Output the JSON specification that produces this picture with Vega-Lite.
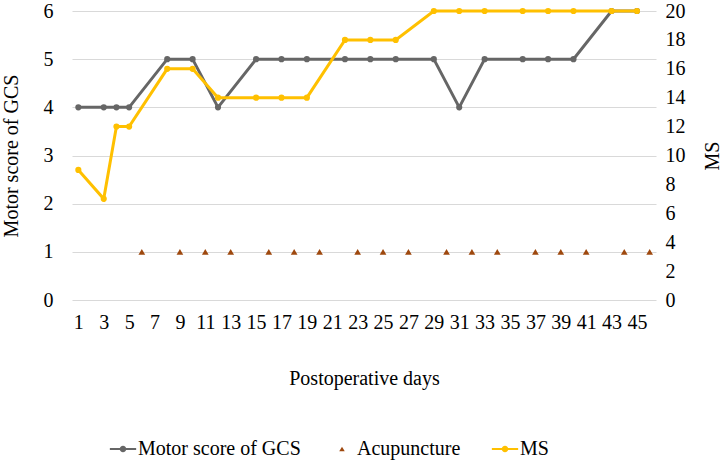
{
  "$schema": "https://vega.github.io/schema/vega-lite/v6.json",
  "autosize": {"type": "none"},
  "width": 584,
  "height": 289,
  "padding": {"left": 72, "top": 11, "right": 70, "bottom": 163},
  "background": "white",
  "config": {
    "font": "Liberation Serif",
    "view": {"stroke": null},
    "axis": {"labelFont": "Liberation Serif", "titleFont": "Liberation Serif", "labelFontSize": 20, "titleFontSize": 20, "titleFontWeight": "normal", "labelColor": "#000", "titleColor": "#000", "ticks": false, "domain": false},
    "legend": {"labelFont": "Liberation Serif"}
  },
  "data": {"values": [
    {"day": 1, "series": "Motor score of GCS", "value": 4},
    {"day": 3, "series": "Motor score of GCS", "value": 4},
    {"day": 4, "series": "Motor score of GCS", "value": 4},
    {"day": 5, "series": "Motor score of GCS", "value": 4},
    {"day": 8, "series": "Motor score of GCS", "value": 5},
    {"day": 10, "series": "Motor score of GCS", "value": 5},
    {"day": 12, "series": "Motor score of GCS", "value": 4},
    {"day": 15, "series": "Motor score of GCS", "value": 5},
    {"day": 17, "series": "Motor score of GCS", "value": 5},
    {"day": 19, "series": "Motor score of GCS", "value": 5},
    {"day": 22, "series": "Motor score of GCS", "value": 5},
    {"day": 24, "series": "Motor score of GCS", "value": 5},
    {"day": 26, "series": "Motor score of GCS", "value": 5},
    {"day": 29, "series": "Motor score of GCS", "value": 5},
    {"day": 31, "series": "Motor score of GCS", "value": 4},
    {"day": 33, "series": "Motor score of GCS", "value": 5},
    {"day": 36, "series": "Motor score of GCS", "value": 5},
    {"day": 38, "series": "Motor score of GCS", "value": 5},
    {"day": 40, "series": "Motor score of GCS", "value": 5},
    {"day": 43, "series": "Motor score of GCS", "value": 6},
    {"day": 45, "series": "Motor score of GCS", "value": 6},
    {"day": 1, "series": "MS", "value": 9},
    {"day": 3, "series": "MS", "value": 7},
    {"day": 4, "series": "MS", "value": 12},
    {"day": 5, "series": "MS", "value": 12},
    {"day": 8, "series": "MS", "value": 16},
    {"day": 10, "series": "MS", "value": 16},
    {"day": 12, "series": "MS", "value": 14},
    {"day": 15, "series": "MS", "value": 14},
    {"day": 17, "series": "MS", "value": 14},
    {"day": 19, "series": "MS", "value": 14},
    {"day": 22, "series": "MS", "value": 18},
    {"day": 24, "series": "MS", "value": 18},
    {"day": 26, "series": "MS", "value": 18},
    {"day": 29, "series": "MS", "value": 20},
    {"day": 31, "series": "MS", "value": 20},
    {"day": 33, "series": "MS", "value": 20},
    {"day": 36, "series": "MS", "value": 20},
    {"day": 38, "series": "MS", "value": 20},
    {"day": 40, "series": "MS", "value": 20},
    {"day": 43, "series": "MS", "value": 20},
    {"day": 45, "series": "MS", "value": 20},
    {"day": 6, "series": "Acupuncture", "value": 1},
    {"day": 9, "series": "Acupuncture", "value": 1},
    {"day": 11, "series": "Acupuncture", "value": 1},
    {"day": 13, "series": "Acupuncture", "value": 1},
    {"day": 16, "series": "Acupuncture", "value": 1},
    {"day": 18, "series": "Acupuncture", "value": 1},
    {"day": 20, "series": "Acupuncture", "value": 1},
    {"day": 23, "series": "Acupuncture", "value": 1},
    {"day": 25, "series": "Acupuncture", "value": 1},
    {"day": 27, "series": "Acupuncture", "value": 1},
    {"day": 30, "series": "Acupuncture", "value": 1},
    {"day": 32, "series": "Acupuncture", "value": 1},
    {"day": 34, "series": "Acupuncture", "value": 1},
    {"day": 37, "series": "Acupuncture", "value": 1},
    {"day": 39, "series": "Acupuncture", "value": 1},
    {"day": 41, "series": "Acupuncture", "value": 1},
    {"day": 44, "series": "Acupuncture", "value": 1},
    {"day": 46, "series": "Acupuncture", "value": 1}
  ]},
  "encoding": {
    "x": {"field": "day", "type": "quantitative", "title": "Postoperative days",
      "scale": {"domain": [0.5, 46.5], "nice": false, "zero": false},
      "axis": {"values": [1,3,5,7,9,11,13,15,17,19,21,23,25,27,29,31,33,35,37,39,41,43,45], "grid": false, "labelPadding": 12, "titlePadding": 36, "labelFlush": false, "labelOverlap": false, "labelFont": "Liberation Serif", "titleFont": "Liberation Serif"}},
    "color": {"field": "series", "type": "nominal", "title": null,
      "scale": {"domain": ["Motor score of GCS", "Acupuncture", "MS"], "range": ["#666666", "#9E480E", "#FFC000"]},
      "legend": {"orient": "none", "legendX": 40, "legendY": 427, "direction": "horizontal", "labelFont": "Liberation Serif", "labelFontSize": 20, "labelLimit": 400, "labelColor": "#000", "columnPadding": 30, "symbolSize": 80, "labelOffset": 4,
        "encode": {"symbols": {"update": {"shape": {"signal": "datum.value === 'Acupuncture' ? 'triangle-up' : 'M-1.2,-0.1H1.2V0.1H-1.2Z M-0.3,0A0.3,0.3 0 1,1 0.3,0A0.3,0.3 0 1,1 -0.3,0Z'"}, "size": {"signal": "datum.value === 'Acupuncture' ? 30 : 480"}, "strokeWidth": {"value": 0}}}}}}
  },
  "layer": [
    {
      "layer": [
        {"transform": [{"filter": "datum.series === 'Motor score of GCS'"}],
         "mark": {"type": "line", "strokeWidth": 3, "point": {"size": 38, "filled": true}},
         "encoding": {"y": {"field": "value", "type": "quantitative"}}},
        {"transform": [{"filter": "datum.series === 'Acupuncture'"}],
         "mark": {"type": "point", "shape": "triangle-up", "filled": true, "size": 45, "opacity": 1},
         "encoding": {"y": {"field": "value", "type": "quantitative"}}}
      ],
      "encoding": {
        "y": {"title": "Motor score of GCS",
          "scale": {"domain": [0, 6], "nice": false},
          "axis": {"orient": "left", "values": [0,1,2,3,4,5,6], "grid": true, "gridColor": "#D9D9D9", "gridWidth": 1, "labelPadding": 19, "titlePadding": 22, "labelFont": "Liberation Serif", "titleFont": "Liberation Serif"}}
      }
    },
    {"transform": [{"filter": "datum.series === 'MS'"}],
     "mark": {"type": "line", "strokeWidth": 3, "point": {"size": 38, "filled": true}},
     "encoding": {"y": {"field": "value", "type": "quantitative", "title": "MS",
        "scale": {"domain": [0, 20], "nice": false},
        "axis": {"orient": "right", "values": [0,2,4,6,8,10,12,14,16,18,20], "grid": false, "labelPadding": 9, "titlePadding": 37, "titleAngle": 270, "labelFont": "Liberation Serif", "titleFont": "Liberation Serif"}}}}
  ],
  "resolve": {"scale": {"y": "independent"}}
}
